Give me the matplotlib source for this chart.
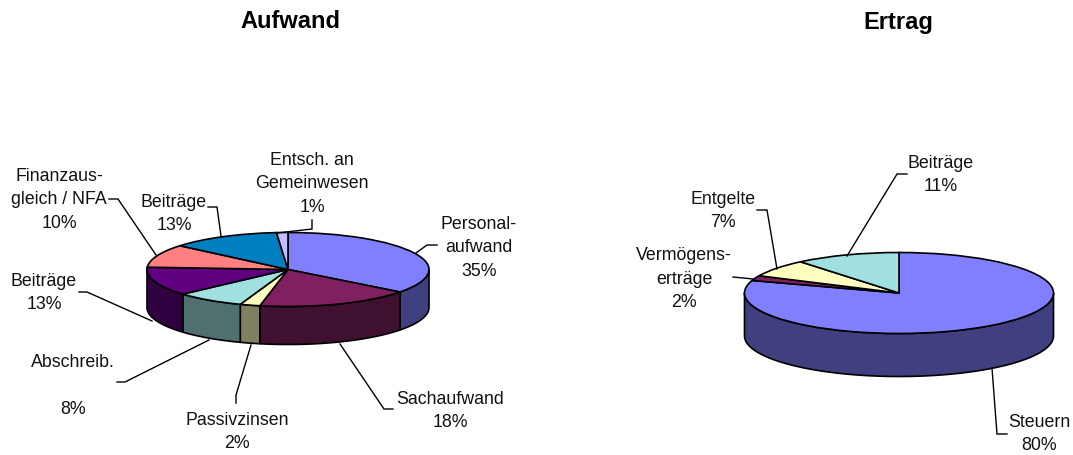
import matplotlib
matplotlib.use("Agg")
import matplotlib.pyplot as plt
import numpy as np

plt.rcParams['font.family'] = ['Liberation Sans', 'DejaVu Sans']

W, H = 1073, 455

# --- data ---
aufwand_names = ["Personal-\naufwand", "Sachaufwand", "Passivzinsen", "Abschreib.\n",
                 "Beiträge", "Finanzaus-\ngleich / NFA", "Beiträge", "Entsch. an\nGemeinwesen"]
aufwand_values = [35.4, 17.8, 2.3, 7.9, 12.6, 10.1, 12.6, 1.3]
ertrag_names = ["Steuern", "Vermögens-\nerträge", "Entgelte", "Beiträge"]
ertrag_values = [80, 2, 7, 11]

# --- styles and layout (pixels) ---
aufwand_colors = ["#8080FF", "#802060", "#FFFFC0", "#A0E0E0", "#600080", "#FF8080", "#0080C0", "#C0C0FF"]
ertrag_colors = ["#8080FF", "#802060", "#FFFFC0", "#A0E0E0"]
aufwand_geom = dict(cx=288, cy=269.5, rx=141, ry=37, depth=38)
ertrag_geom = dict(cx=899, cy=293, rx=154.5, ry=40.5, depth=43)
aufwand_label_xy = [(479, 248), (450, 411), (237, 432), (73, 386),
                    (44, 293), (59, 200), (174, 214), (312, 184)]
ertrag_label_xy = [(1039, 434), (684, 279), (723, 211), (941, 175)]
aufwand_leaders = [[(416, 253), (427, 245), (437, 245)],
                   [(340, 344), (384, 409), (393, 409)],
                   [(251, 345), (236, 395), (236, 403)],
                   [(209, 340), (125, 382), (117, 382)],
                   [(152, 321), (87, 292), (79, 292)],
                   [(156, 255), (118, 199), (109, 199)],
                   [(221, 236), (217, 207), (208, 207)],
                   [(277, 233), (312, 229), (312, 220)]]
ertrag_leaders = [[(992, 368), (997, 434), (1007, 434)],
                  [(753, 279), (733, 277)],
                  [(777, 269), (767, 210), (757, 210)],
                  [(847, 256), (897, 174), (907, 174)]]
LABEL_SIZE = 12.8
TITLE_SIZE = 17
EDGE = 1.2

fig = plt.figure(figsize=(W / 100, H / 100), dpi=100, facecolor="white")


def darker(c):
    r = matplotlib.colors.to_rgb(c)
    return tuple(v / 2 for v in r)


def pie3d(values, colors, g):
    bottom = g['depth'] / g['ry']
    left = (g['cx'] - g['rx']) / W
    low = 1 - (g['cy'] + g['ry'] + g['depth']) / H
    ax = fig.add_axes([left, low, 2 * g['rx'] / W, (2 * g['ry'] + g['depth']) / H])
    edges = np.cumsum([0] + list(values)) / np.sum(values) * 360
    # visible outer wall: the front half of the rim, clockwise angle from the top
    for a, b, c in zip(edges[:-1], edges[1:], colors):
        lo, hi = max(a, 90), min(b, 270)
        if lo >= hi:
            continue
        t = np.radians(np.linspace(lo, hi, 60))
        x, y = np.sin(t), np.cos(t)
        ax.fill(np.r_[x, x[::-1]], np.r_[y, y[::-1] - bottom], facecolor=darker(c),
                edgecolor="black", linewidth=EDGE, joinstyle="round", clip_on=False, zorder=1)
    wedges, _ = ax.pie(values, colors=colors, startangle=90, counterclock=False, radius=1,
                       wedgeprops=dict(edgecolor="black", linewidth=EDGE, clip_on=False, zorder=2))
    ax.set_aspect('auto')
    ax.set_xlim(-1, 1)
    ax.set_ylim(-1 - bottom, 1)
    ax.axis("off")


pie3d(aufwand_values, aufwand_colors, aufwand_geom)
pie3d(ertrag_values, ertrag_colors, ertrag_geom)

# overlay in pixel coordinates for titles, labels and leader lines
ov = fig.add_axes([0, 0, 1, 1], facecolor="none")
ov.set_xlim(0, W)
ov.set_ylim(H, 0)
ov.axis("off")


def labels(names, values, xy, leaders):
    for name, v, (x, y), path in zip(names, values, xy, leaders):
        ov.text(x, y, f"{name}\n{round(v)}%", ha="center", va="center", fontsize=LABEL_SIZE,
                linespacing=1.52, color="#111111")
        px, py = zip(*path)
        ov.plot(px, py, color="black", linewidth=1.0, solid_joinstyle="miter")


labels(aufwand_names, aufwand_values, aufwand_label_xy, aufwand_leaders)
labels(ertrag_names, ertrag_values, ertrag_label_xy, ertrag_leaders)

ov.text(290, 28.5, "Aufwand", ha="center", va="baseline", fontsize=TITLE_SIZE, fontweight="bold")
ov.text(898, 28.5, "Ertrag", ha="center", va="baseline", fontsize=TITLE_SIZE, fontweight="bold")

fig.savefig("out.png", dpi=100)
